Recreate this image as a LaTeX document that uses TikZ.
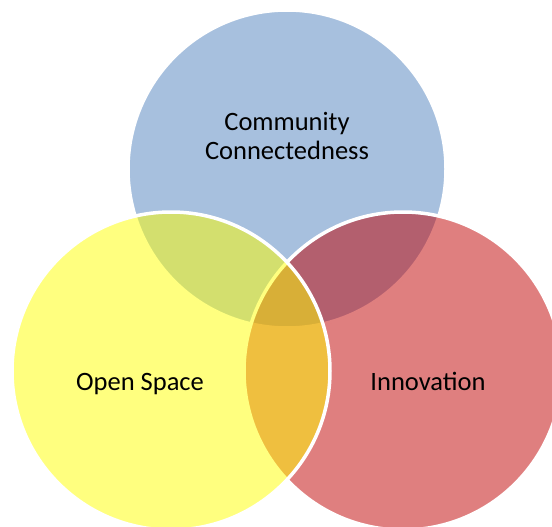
\documentclass[tikz,border=0pt]{standalone}
\usepackage{fontspec}
\setmainfont{Carlito}
\definecolor{vennblue}{HTML}{4F81BD}
\definecolor{vennred}{HTML}{C00000}
\definecolor{vennyellow}{HTML}{FFFF00}
\tikzset{
  venn/.style={fill opacity=0.5, draw=white, line width=3.5pt},
  label/.style={text=black, font=\fontsize{26.5}{28.5}\selectfont, align=center}
}
\begin{document}
\begin{tikzpicture}[x=1pt, y=-1pt]
% cadre
\useasboundingbox (0,0) rectangle (552,527);
\clip (0,0) rectangle (552,527);
% cercles
\draw [venn, fill=vennblue] (287,169) circle (159);
\draw [venn, fill=vennred] (403,371) circle (159);
\draw [venn, fill=vennyellow] (171,371) circle (159);
% textes
\node [label] (comm) at (287,136) {Community\\Connectedness};
\node [label, anchor=base] (open) at (140,390) {Open Space};
\node [label, anchor=base] (innov) at (428,390) {Innovation};
\end{tikzpicture}
\end{document}
